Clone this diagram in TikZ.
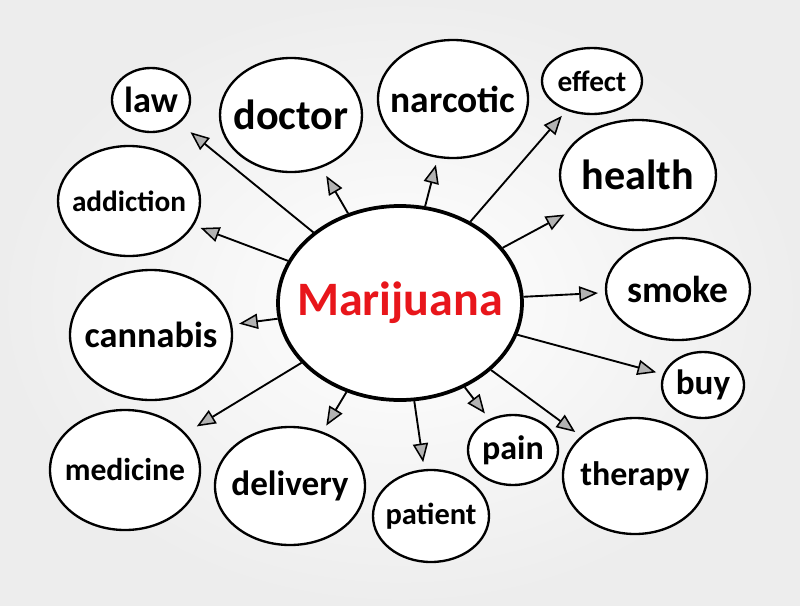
\documentclass[tikz,border=0pt]{standalone}
\usepackage{fontspec}
\setmainfont{Carlito}
\usepackage{xcolor}
\usepackage{tikz}
\usetikzlibrary{shapes.geometric, arrows.meta, positioning, calc}
\definecolor{mjred}{HTML}{E8161B}
\tikzstyle{bubble} = [
    ellipse, draw=black, line width=2pt, fill=white, inner sep=0pt
]
\tikzstyle{arrow} = [-{Triangle[length=16pt, width=13pt, fill=gray!60, line width=1.3pt]},
    line width=1.6pt, draw=black, shorten >=6pt]
\tikzset{
    word/.style={font=\bfseries\fontsize{#1}{#1}\selectfont},
    wh/.style 2 args={minimum width={#1*0.03cm}, minimum height={#2*0.03cm}}
}

\begin{document}
\begin{tikzpicture}[x=0.03cm, y=-0.03cm]
        \useasboundingbox (0,0) rectangle (800,605);
        \shade[inner color=white, outer color=black!7] (0,0) rectangle (800,605);

        % centre
        \node[bubble, line width=3.2pt, wh={244}{194},
              label={[word=41, text=mjred]center:Marijuana}] (mj) at (400,303) {};

        % ring of words
        \node[bubble, wh={78}{64}, label={[word=31]center:law}] (law) at (151,100) {};
        \node[bubble, wh={142}{114}, label={[word=36]center:doctor}] (doctor) at (291,115) {};
        \node[bubble, wh={150}{118}, label={[word=32]center:narcotic}] (narcotic) at (453,99) {};
        \node[bubble, wh={100}{66}, label={[word=25]center:effect}] (effect) at (592,81) {};
        \node[bubble, wh={156}{110}, label={[word=36]center:health}] (health) at (638,175) {};
        \node[bubble, wh={142}{110}, label={[word=25]center:addiction}] (addiction) at (129,201) {};
        \node[bubble, wh={144}{102}, label={[word=32]center:smoke}] (smoke) at (678,289) {};
        \node[bubble, wh={162}{130}, label={[word=31]center:cannabis}] (cannabis) at (151,335) {};
        \node[bubble, wh={82}{66}, label={[word=30]center:buy}] (buy) at (703,385) {};
        \node[bubble, wh={90}{70}, label={[word=29]center:pain}] (pain) at (513,450) {};
        \node[bubble, wh={144}{116}, label={[word=29]center:therapy}] (therapy) at (635,476) {};
        \node[bubble, wh={150}{120}, label={[word=27]center:medicine}] (medicine) at (125,470) {};
        \node[bubble, wh={150}{118}, label={[word=30]center:delivery}] (delivery) at (290,486) {};
        \node[bubble, wh={116}{92}, label={[word=26]center:patient}] (patient) at (431,516) {};

        \draw[arrow, shorten >=12pt] (mj) -- (law);
        \draw[arrow, shorten >=8pt] (mj) -- (doctor);
        \draw[arrow] (mj) -- (narcotic);
        \draw[arrow] (mj) -- (effect);
        \draw[arrow, shorten >=10pt] (mj) -- (health);
        \draw[arrow] (mj) -- (addiction);
        \draw[arrow] (mj) -- (smoke);
        \draw[arrow] (mj) -- (cannabis);
        \draw[arrow] (mj) -- (buy);
        \draw[arrow] (mj) -- (pain);
        \draw[arrow] (mj) -- (therapy);
        \draw[arrow, shorten >=11pt] (mj) -- (medicine);
        \draw[arrow] (mj) -- (delivery);
        \draw[arrow] (mj) -- (patient);
    \end{tikzpicture}
\end{document}
